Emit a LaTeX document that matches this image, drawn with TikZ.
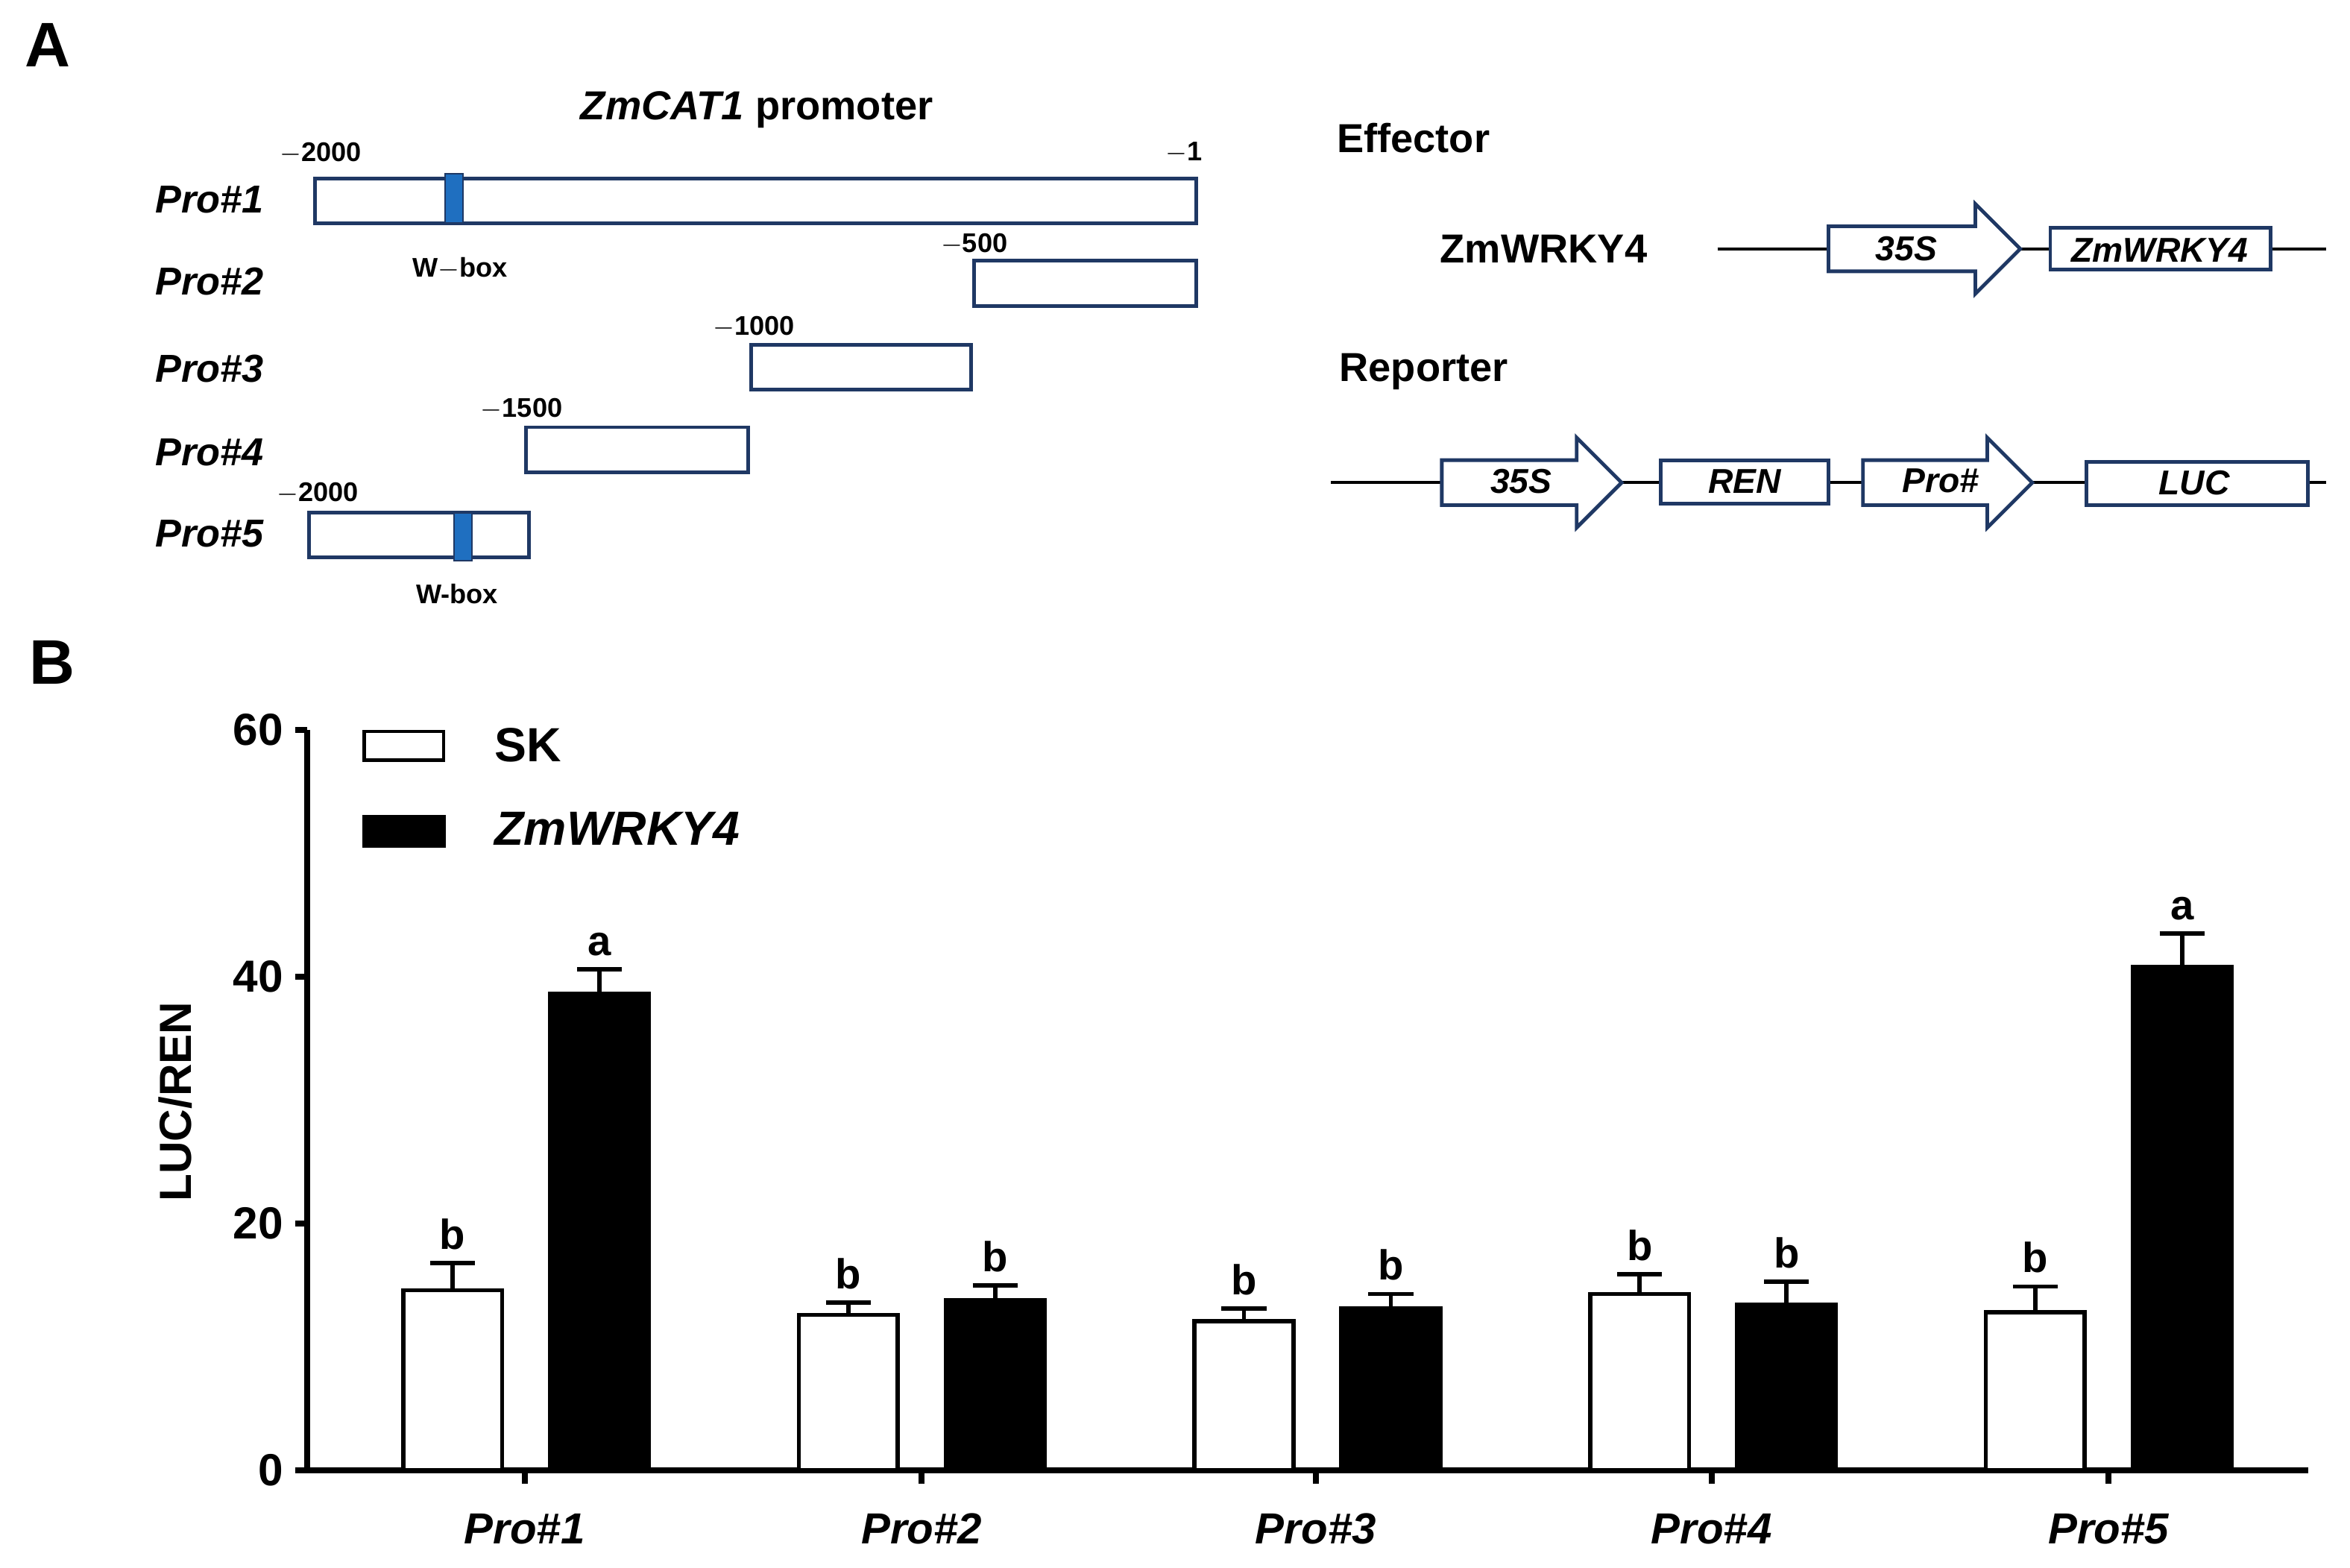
\documentclass[tikz,border=0pt]{standalone}
\usepackage{fontspec}
\setmainfont{Liberation Sans}
\begin{document}
\begin{tikzpicture}[x=0.5pt,y=-0.5pt,
  prom/.style={draw=navy,line width=1.2pt,fill=white},
  wbox/.style={draw=navy,line width=0.6pt,fill=wblue},
  num/.style={font=\bfseries\fontsize{9}{9}\selectfont},
  plab/.style={font=\bfseries\itshape\fontsize{13}{13}\selectfont},
  big/.style={font=\bfseries\fontsize{13.5}{13.5}\selectfont},
  gene/.style={font=\bfseries\itshape\fontsize{11.5}{11.5}\selectfont},
  bar/.style={draw=black,line width=1.4pt},
  err/.style={line width=1.4pt},
  sig/.style={font=\bfseries\fontsize{14}{14}\selectfont}]
\definecolor{navy}{HTML}{1F3864}
\definecolor{wblue}{HTML}{1F6FC0}
\useasboundingbox (0,0) rectangle (1568,1046);
% Panel A
\node[font=\bfseries\fontsize{21}{21}\selectfont] (A) at (32,30) {A};
\node[big] (title) at (505,73) {\textit{ZmCAT1} promoter};
\node[plab] (l1) at (140,133) {Pro\#1};
\node[plab] (l2) at (140,188) {Pro\#2};
\node[plab] (l3) at (140,246) {Pro\#3};
\node[plab] (l4) at (140,302) {Pro\#4};
\node[plab] (l5) at (140,356) {Pro\#5};
\draw[prom] (210,119) rectangle (798,149);
\draw[wbox] (297,116) rectangle (309,149);
\draw[prom] (650,174) rectangle (798,204);
\draw[prom] (501,230) rectangle (648,260);
\draw[prom] (351,285) rectangle (499,315);
\draw[prom] (206,342) rectangle (353,372);
\draw[wbox] (303,342) rectangle (315,374);
\node[num] (n1) at (214,102) {$-$2000};
\node[num] (n2) at (790,102) {$-$1};
\node[num] (n3) at (650,163) {$-$500};
\node[num] (n4) at (503,218) {$-$1000};
\node[num] (n5) at (348,273) {$-$1500};
\node[num] (n6) at (212,329) {$-$2000};
\node[num] (w1) at (307,179) {W$-$box};
\node[num] (w2) at (305,396) {W-box};
% Effector
\node[big] (eff) at (943,92) {Effector};
\node[big] (ewr) at (1030,166) {ZmWRKY4};
\draw[line width=1pt] (1146,166) -- (1552,166);
\draw[prom] (1220,151) -- (1318,151) -- (1318,136) -- (1348,166) -- (1318,196) -- (1318,181) -- (1220,181) -- cycle;
\node[gene] (e35) at (1272,166) {35S};
\draw[prom] (1368,152) rectangle (1515,180);
\node[gene] (ezm) at (1441,167) {ZmWRKY4};
% Reporter
\node[big] (rep) at (950,248) {Reporter};
\draw[line width=1pt] (888,322) -- (1552,322);
\draw[prom] (962,307) -- (1052,307) -- (1052,292) -- (1082,322) -- (1052,352) -- (1052,337) -- (962,337) -- cycle;
\node[gene] (r35) at (1015,321) {35S};
\draw[prom] (1108,307) rectangle (1220,336);
\node[gene] (ren) at (1164,321) {REN};
\draw[prom] (1243,307) -- (1326,307) -- (1326,292) -- (1356,322) -- (1326,352) -- (1326,337) -- (1243,337) -- cycle;
\node[gene] (rpro) at (1295,321) {Pro\#};
\draw[prom] (1392,308) rectangle (1540,337);
\node[gene] (luc) at (1464,322) {LUC};
% Panel B
\node[font=\bfseries\fontsize{21}{21}\selectfont] (B) at (35,442) {B};
\draw[line width=2pt] (205,487) -- (205,983) ;
\draw[line width=2pt] (203,981) -- (1540,981);
\foreach \v/\y in {0/981,20/816.3,40/651.7,60/487}{
  \draw[line width=2pt] (197,\y) -- (205,\y);
  \node[font=\bfseries\fontsize{15}{15}\selectfont,anchor=east] at (196,\y) {\v};
}
\foreach \x/\n in {350/1,615/2,878/3,1142/4,1407/5}{
  \draw[line width=2pt] (\x,981) -- (\x,990);
  \node[plab,font=\bfseries\itshape\fontsize{14.5}{14.5}\selectfont] at (\x,1020) {Pro\#\n};
}
\node[font=\bfseries\fontsize{15}{15}\selectfont,rotate=90] (ylab) at (117,735) {LUC/REN};
% bars: left, value, error, fill
\foreach \l/\v/\e/\f in {269/14.6/16.8/white,367/38.6/40.6/black,533/12.6/13.6/white,631/13.8/15/black,797/12.1/13.1/white,895/13.1/14.3/black,1061/14.3/15.9/white,1159/13.4/15.3/black,1325/12.8/14.9/white,1423/40.8/43.5/black}{
  \pgfmathsetmacro{\top}{981-8.233*\v}
  \pgfmathsetmacro{\et}{981-8.233*\e}
  \pgfmathsetmacro{\c}{\l+33}
  \draw[err] (\c,\top) -- (\c,\et) (\c-15,\et) -- (\c+15,\et);
  \draw[bar,fill=\f] (\l,981) rectangle (\l+66,\top);
  \node[sig,anchor=south] at (\c,\et-2) {\ifx\f\relax\fi\pgfmathparse{(\v>30)?1:0}\ifnum\pgfmathresult=1 a\else b\fi};
}
% legend
\draw[bar,line width=1.2pt,fill=white] (243,488) rectangle (296,507);
\node[font=\bfseries\fontsize{16}{16}\selectfont,anchor=west] (sk) at (323,497) {SK};
\draw[bar,fill=black] (243,545) rectangle (296,564);
\node[font=\bfseries\itshape\fontsize{16}{16}\selectfont,anchor=west] (zw) at (323,553) {ZmWRKY4};
\end{tikzpicture}
\end{document}
